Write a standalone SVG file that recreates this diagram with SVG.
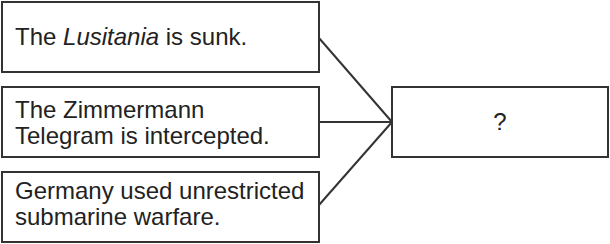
<svg xmlns="http://www.w3.org/2000/svg" width="610" height="244" viewBox="0 0 610 244">
<style>
.box{fill:#fff;stroke:#333;stroke-width:2}
.t{font-family:"Liberation Sans",Arial,sans-serif;font-size:24px;fill:#222}
.c{stroke:#333;stroke-width:2;fill:none}
</style>
<rect width="610" height="244" fill="#fff"/>
<g id="connectors">
<line class="c" x1="319" y1="38" x2="392" y2="122"/>
<line class="c" x1="319" y1="122" x2="392" y2="122"/>
<line class="c" x1="319" y1="205" x2="392" y2="122"/>
</g>
<g id="node1">
<rect class="box" x="2" y="2" width="317" height="70"/>
<text class="t" x="15" y="45">The <tspan font-style="italic">Lusitania</tspan> is sunk.</text>
</g>
<g id="node2">
<rect class="box" x="2" y="87" width="317" height="70"/>
<text class="t" x="15" y="118">The Zimmermann</text>
<text class="t" x="15" y="144">Telegram is intercepted.</text>
</g>
<g id="node3">
<rect class="box" x="2" y="172" width="317" height="70"/>
<text class="t" x="15" y="199">Germany used unrestricted</text>
<text class="t" x="15" y="225">submarine warfare.</text>
</g>
<g id="node4">
<rect class="box" x="392" y="87" width="216" height="70"/>
<text class="t" x="500" y="130" text-anchor="middle">?</text>
</g>
</svg>
